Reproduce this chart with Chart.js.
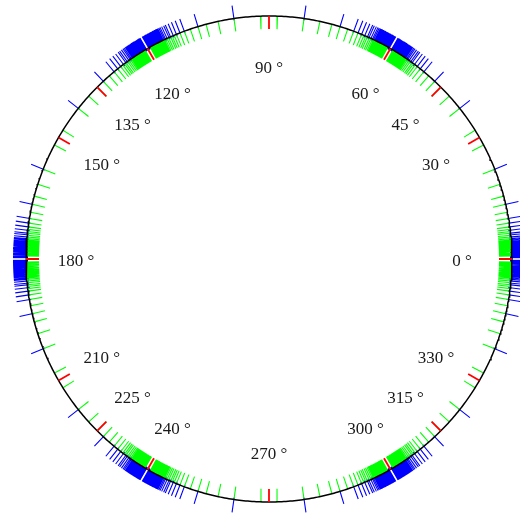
<!DOCTYPE html>
<html>
<head>
<meta charset="utf-8">
<script src="https://cdn.jsdelivr.net/npm/chart.js@4"></script>
<style>
  html, body { margin: 0; padding: 0; background: #fff; }
  #wrap { width: 520px; height: 524px; }
</style>
</head>
<body>
<div id="wrap"><canvas id="ring" width="520" height="524"></canvas></div>
<script>
// angle offsets (degrees) read inside one 30° sector; the figure repeats them
// around every multiple of 60° on both sides
const greenOffsets = [0.7, 0.8, 0.9, 1.0, 1.1, 1.2, 1.3, 1.4, 1.5, 1.6, 1.7, 1.8, 1.9, 2.0, 2.1, 2.2,
  2.3, 2.4, 2.5, 2.6, 2.7, 2.8, 2.9, 3.0, 3.1, 3.2, 3.3, 3.45, 3.6, 3.75, 3.9, 4.1, 4.3, 4.5, 4.8, 5.2,
  5.6, 6.1, 6.5, 7.0, 7.6, 8.5, 9.6, 11.1, 13.0, 15.0, 17.9, 21.7, 28.0];
const blueOffsets = [0.2, 0.3, 0.4, 0.5, 0.6, 0.7, 0.8, 0.9, 1.0, 1.1, 1.2, 1.3, 1.4, 1.5, 1.6, 1.7,
  1.8, 1.9, 2.0, 2.1, 2.2, 2.3, 2.4, 2.5, 2.6, 2.7, 2.8, 2.9, 3.0, 3.1, 3.2, 3.35, 3.5, 3.65, 3.8, 4.0,
  4.2, 4.5, 4.8, 5.2, 5.7, 6.1, 6.8, 7.6, 8.5, 9.6, 13.0, 21.7];
const sectorCentres = [0, 60, 120, 180, 240, 300];
const redAngles = [0, 30, 45, 60, 90, 120, 135, 150, 180, 210, 225, 240, 270, 300, 315, 330];
const labelAngles = [0, 30, 45, 60, 90, 120, 135, 150, 180, 210, 225, 240, 270, 300, 315, 330];

const R = 243;        // circle radius in chart units (1 unit = 1 px)
const LABEL_R = 193;

function spread(offsets) {
  const out = [];
  sectorCentres.forEach(c => {
    offsets.forEach(a => { out.push(c + a); out.push(c - a); });
  });
  return out;
}

function ticks(angles, r0, r1) {
  const pts = [];
  angles.forEach(a => {
    const t = a * Math.PI / 180;
    pts.push({ x: r0 * Math.cos(t), y: r0 * Math.sin(t) });
    pts.push({ x: r1 * Math.cos(t), y: r1 * Math.sin(t) });
    pts.push({ x: null, y: null });
  });
  return pts;
}

const circlePts = [];
for (let i = 0; i <= 720; i++) {
  const t = i / 720 * 2 * Math.PI;
  circlePts.push({ x: R * Math.cos(t), y: R * Math.sin(t) });
}

const lineDs = (data, color, width, order) => ({
  data: data, showLine: true, borderColor: color, borderWidth: width,
  pointRadius: 0, spanGaps: false, order: order, borderCapStyle: 'butt'
});

const labelPlugin = {
  id: 'angleLabels',
  afterDatasetsDraw(chart) {
    const ctx = chart.ctx, sx = chart.scales.x, sy = chart.scales.y;
    ctx.save();
    ctx.fillStyle = '#1a1a1a';
    ctx.font = '17px "Liberation Serif", "DejaVu Serif", serif';
    ctx.textAlign = 'center';
    ctx.textBaseline = 'middle';
    labelAngles.forEach(a => {
      const t = a * Math.PI / 180;
      ctx.fillText(a + ' °', sx.getPixelForValue(LABEL_R * Math.cos(t)), sy.getPixelForValue(LABEL_R * Math.sin(t)) + 3);
    });
    ctx.restore();
  }
};

new Chart(document.getElementById('ring').getContext('2d'), {
  type: 'scatter',
  data: {
    datasets: [
      lineDs(ticks(redAngles, R, R - 13), '#ff0000', 1.8, 0),
      lineDs(circlePts, '#000000', 1.5, 1),
      lineDs(ticks(redAngles.filter(a => a % 60 === 0), R - 14, R + 14), '#ffffff', 1.6, 2),
      lineDs(ticks(spread(greenOffsets), R, R - 13), '#00ff00', 1.1, 3),
      lineDs(ticks(spread(blueOffsets), R - 2, R + 13), '#0000ff', 1.1, 4)
    ]
  },
  options: {
    responsive: false,
    animation: false,
    events: [],
    layout: { padding: 0 },
    scales: {
      x: { type: 'linear', min: -269, max: 251, display: false },
      y: { type: 'linear', min: -265, max: 259, display: false }
    },
    plugins: { legend: { display: false }, tooltip: { enabled: false } }
  },
  plugins: [labelPlugin]
});
</script>
</body>
</html>
